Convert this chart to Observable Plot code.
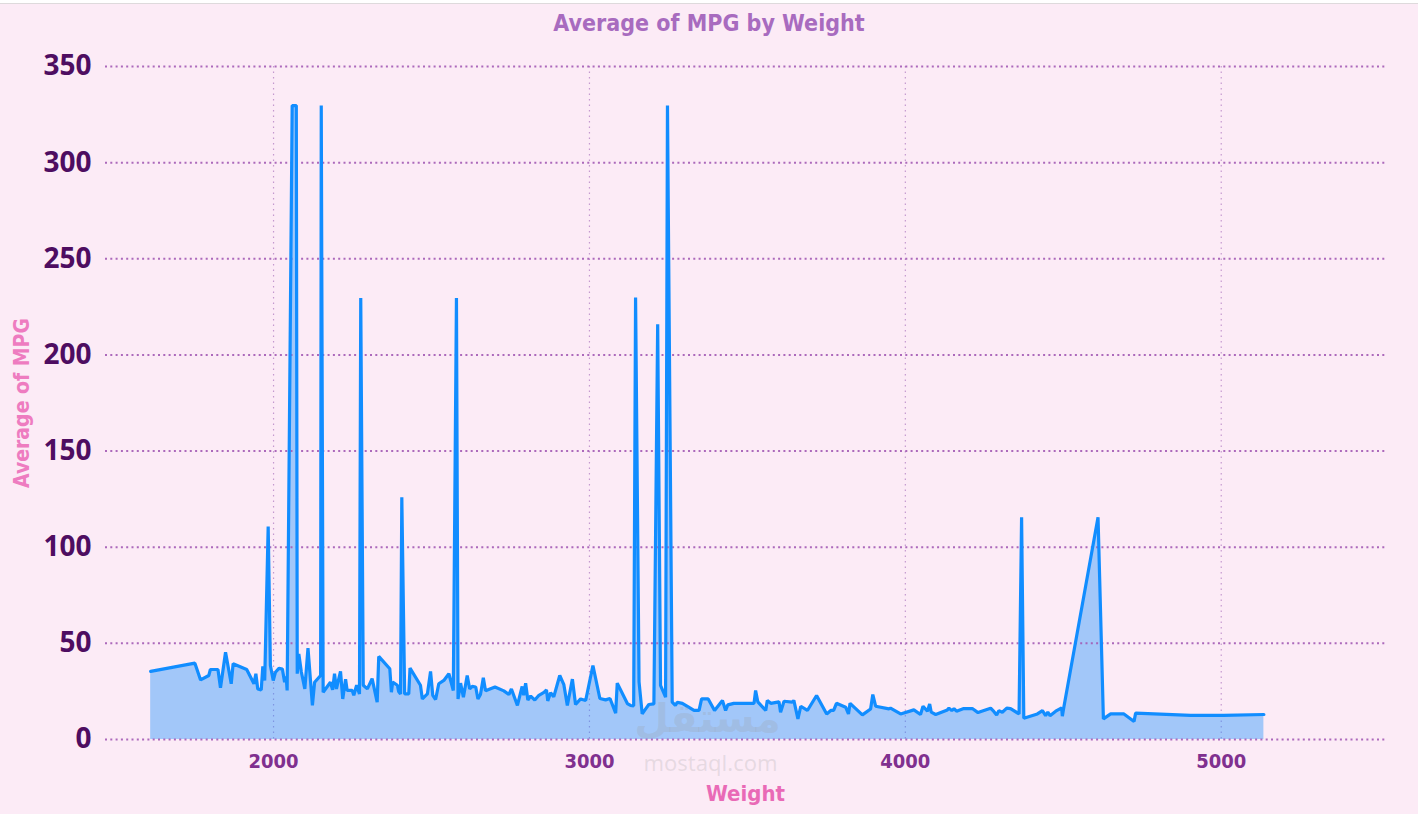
<!DOCTYPE html>
<html><head><meta charset="utf-8">
<script src="https://cdn.jsdelivr.net/npm/d3@7"></script>
<script src="https://cdn.jsdelivr.net/npm/@observablehq/plot@0.6"></script>
<style>
html,body{margin:0;padding:0;background:#FCEBF6;width:1418px;height:814px;overflow:hidden;position:relative}
#topbar{position:absolute;left:0;top:0;width:1418px;height:3px;background:#fff;border-bottom:1px solid #dedadc}
#title{position:absolute;left:0;top:0;width:1418px;height:44px;line-height:46px;text-align:center;
  font-family:"DejaVu Sans Condensed","Liberation Sans Narrow","DejaVu Sans",sans-serif;font-weight:bold;font-size:23px;color:#A86BBF}
#chart{position:absolute;left:0;top:44px}
</style></head>
<body>
<div id="topbar"></div>
<div id="title">Average of MPG by Weight</div>
<div id="chart"></div>
<script>
const weights = [1611,1751,1769,1795,1800,1824,1832,1848,1866,1872,1915,1938,1944,1950,1961,1966,1972,1983,1990,1999,
  2006,2017,2028,2035,2040,2043,2059,2072,2075,2080,2088,2099,2109,2123,2130,2149,2151,2157,2180,2187,
  2193,2199,2212,2219,2228,2233,2249,2254,2263,2272,2276,2284,2297,2312,2328,2333,2368,2373,2377,2392,
  2396,2402,2406,2415,2428,2432,2465,2471,2487,2497,2504,2513,2523,2539,2555,2569,2579,2584,2592,2601,
  2613,2621,2629,2640,2647,2655,2664,2671,2701,2729,2745,2753,2772,2787,2792,2798,2805,2814,2827,2840,
  2856,2864,2868,2877,2887,2906,2919,2930,2946,2956,2972,2988,3011,3033,3051,3065,3083,3088,3120,3130,
  3140,3146,3157,3167,3178,3188,3204,3216,3225,3241,3247,3262,3272,3278,3294,3310,3331,3347,3355,3376,
  3396,3421,3431,3438,3457,3521,3526,3533,3558,3563,3574,3600,3605,3616,3642,3647,3660,3669,3690,3719,
  3751,3764,3773,3782,3811,3820,3825,3864,3890,3897,3906,3948,3953,3985,4027,4048,4056,4070,4077,4082,
  4096,4133,4138,4147,4154,4162,4185,4212,4230,4270,4280,4289,4296,4307,4321,4333,4360,4368,4375,4418,
  4434,4444,4451,4458,4476,4495,4497,4502,4610,4627,4650,4692,4724,4729,4903,5008,5135];
const mpg = [35.4,39.7,31,33.3,36.4,36.4,26.9,45.4,29,39.4,36.4,29,34.2,26.3,25.8,38.1,30.7,110.7,38.5,30.7,
  35,37,36.6,29.8,32.8,25.5,329.7,329.7,34.2,44.5,35.1,26.3,47.5,17.7,29.8,33.3,329.7,24.6,29.8,25.8,
  34.2,26.3,35.4,21.1,31.4,25.5,25.5,23,28.2,23.7,229.6,28.2,26.3,31.7,19.4,43.2,36.8,24.6,29.8,28.2,
  25,23.7,126,23.7,23.7,37.1,28.2,21.1,23.7,35.4,23,20.8,29,30.7,34.2,25.5,229.6,21.1,29.3,22,
  33.3,26.3,27.6,27.3,21.1,23.4,32.1,25.3,27.3,25.3,23.4,26.3,17.7,27.6,23,29.3,20.5,22.6,20.5,23,
  24.5,25.8,20.1,24.3,22.2,33.3,28.5,17.7,31.4,18.2,21.1,20.3,38.5,21.3,20.6,21.3,13.7,29.3,18.7,17.7,
  17.5,229.8,30,13.3,15.9,18.2,18.5,216,28.1,22,329.7,19.4,17.7,19.4,18.8,17.2,15.1,15.1,21.1,21.1,
  15.1,20.3,15.1,18,18.8,18.8,25.5,19.6,15.1,20.3,18.8,19.6,14.2,19.9,19.4,20.3,10.7,17.3,15.1,22.9,
  13.3,15.1,15.1,18.8,16.8,13.3,18.8,12.8,15.9,23.4,17.3,15.9,16.3,13.3,15.4,13,17.3,14.7,18.5,14.2,
  13,15.4,16.3,15,16,14.7,16.1,16.1,14,16.3,14.6,12.8,15,14.2,16.3,16.1,13.3,115.6,11.1,13.3,
  15,12.4,14.2,12.4,14.7,16.5,12.1,17,115.6,10.7,13.3,13.3,9.4,13.7,12.5,12.5,13];
const xTicks = [2000, 3000, 4000, 5000];
const yTicks = [0, 50, 100, 150, 200, 250, 300, 350];
const xTitle = "Weight";
const yTitle = "Average of MPG";
const watermark = ["مستقل", "mostaql.com"];

const data = weights.map((w, i) => ({w, v: mpg[i]}));
const condensed = '"DejaVu Sans Condensed","Liberation Sans Narrow","DejaVu Sans",sans-serif';

const chart = Plot.plot({
  width: 1418,
  height: 770,
  marginLeft: 105,
  marginRight: 33,
  marginTop: 22,
  marginBottom: 75,
  style: {background: "transparent", overflow: "visible"},
  x: {domain: [1468, 5520]},
  y: {domain: [0, 350]},
  marks: [
    Plot.gridX(xTicks, {stroke: "#B27DC2", strokeOpacity: 0.75, strokeWidth: 1.2, strokeDasharray: "1.5,4"}),
    Plot.areaY(data, {x: "w", y: "v", fill: "#118DFF", fillOpacity: 0.38}),
    Plot.gridY(yTicks, {stroke: "#A35BB5", strokeOpacity: 0.9, strokeWidth: 2, strokeDasharray: "2,3.3"}),
    Plot.lineY(data, {x: "w", y: "v", stroke: "#118DFF", strokeWidth: 3.2, strokeLinejoin: "miter"}),
    Plot.axisX(xTicks, {tickSize: 0, tickPadding: 14, fontSize: 20, fontWeight: "bold", fill: "#80308F", label: null, tickFormat: d => String(d), fontFamily: condensed}),
    Plot.axisY(yTicks, {tickSize: 0, tickPadding: 14, fontSize: 28, fontWeight: "bold", fill: "#4E0D61", label: null, fontFamily: '"Open Sans",sans-serif'}),
    Plot.text([yTitle], {frameAnchor: "left", textAnchor: "middle", text: d => d, rotate: -90, dx: -83, fontSize: 21, fontWeight: "bold", fill: "#EE7CC0", fontFamily: condensed}),
    Plot.text([xTitle], {frameAnchor: "bottom", textAnchor: "middle", text: d => d, dy: 61, fontSize: 22, fontWeight: "bold", fill: "#E96AB6", fontFamily: condensed}),
    Plot.text([watermark[0]], {frameAnchor: "bottom", textAnchor: "middle", text: d => d, dx: -38, dy: -8, fontSize: 40, fontWeight: "bold", fill: "#9a9a9a", fillOpacity: 0.22, fontFamily: '"DejaVu Sans",sans-serif'}),
    Plot.text([watermark[1]], {frameAnchor: "bottom", textAnchor: "middle", text: d => d, dx: -35, dy: 31, fontSize: 22, fill: "#9a9a9a", fillOpacity: 0.22, fontFamily: '"Noto Sans","DejaVu Sans",sans-serif'})
  ]
});
document.getElementById("chart").appendChild(chart);
</script>
</body></html>
